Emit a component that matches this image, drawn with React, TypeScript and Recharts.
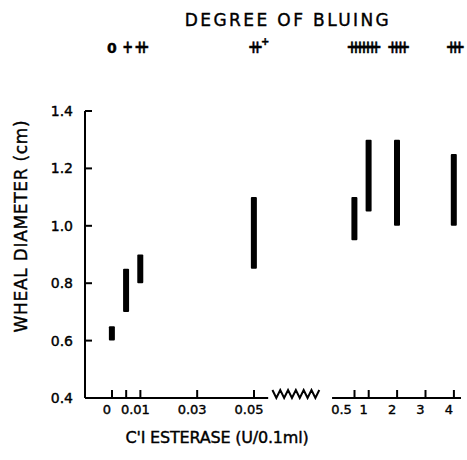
import React from "react";
import { ComposedChart, Bar, XAxis, YAxis, ReferenceLine, Label } from "recharts";

// C'1 esterase concentrations (U/0.1ml) and measured wheal ranges (cm)
const concentrations = [0, 0.005, 0.01, 0.05, 0.5, 1, 2, 4];
const whealLow = [0.6, 0.7, 0.8, 0.85, 0.95, 1.05, 1.0, 1.0];
const whealHigh = [0.65, 0.85, 0.9, 1.1, 1.1, 1.3, 1.3, 1.25];
const bluing = ["0", "+", "++", "++⁺", "+++", "++++", "++++", "+++"];

const tickValues = [0, 0.005, 0.01, 0.03, 0.05, 0.5, 1, 2, 3, 4];
const tickLabels = ["0", "", "0.01", "0.03", "0.05", "0.5", "1", "2", "3", "4"];
const yTicks = [0.4, 0.6, 0.8, 1.0, 1.2, 1.4];

// broken axis: 0-0.05 drawn on a x100 scale, 0.5-4 shifted past the break
const BREAK_SHIFT = 8.04;
const toPos = (c: number) => (c <= 0.05 ? c * 100 : c + BREAK_SHIFT);
const X_DOMAIN = [-0.95, 12.29];

const data = concentrations.map((c, i) => ({
  pos: toPos(c),
  range: [whealLow[i], whealHigh[i]],
}));

const FONT = "DejaVu Sans";
const ink = { fill: "#000", stroke: "#000", strokeWidth: 0.4, fontFamily: FONT };

const findIndex = (vals: number[], p: number) =>
  vals.findIndex((v) => Math.abs(toPos(v) - p) < 1e-6);

const BottomTick = ({ x, y, payload }: any) => {
  const i = findIndex(tickValues, payload.value);
  const label = tickLabels[i] ?? "";
  const shift = label === "0.5" ? -13 : -5;
  return (
    <g>
      <line x1={x} x2={x} y1={y} y2={y - 8} stroke="#000" strokeWidth={2} />
      <text x={x + shift} y={y + 16} textAnchor="middle" fontSize={13} {...ink}>
        {label}
      </text>
    </g>
  );
};

const TopTick = ({ x, y, payload }: any) => {
  const i = findIndex(concentrations, payload.value);
  const label = bluing[i] ?? "";
  const main = label.replace("⁺", "");
  const sup = label.includes("⁺");
  if (main === "0") {
    return (
      <text x={x} y={y - 58} textAnchor="middle" fontSize={14} fontWeight="bold" {...ink}>
        0
      </text>
    );
  }
  return (
    <g transform={`translate(${x},${y - 58})`}>
      <text x={-2} y={0} transform="scale(1,1.35)" textAnchor="middle" fontSize={13} fontWeight="bold" letterSpacing={-6.8} {...ink}>
        {main}
      </text>
      {sup && (
        <text x={7} y={-8} fontSize={10} fontWeight="bold" {...ink}>
          +
        </text>
      )}
    </g>
  );
};

const LeftTick = ({ x, y, payload }: any) => (
  <g>
    <line x1={x} x2={x + 7} y1={y} y2={y} stroke="#000" strokeWidth={2} />
    <text x={x - 12} y={y + 5} textAnchor="end" fontSize={14} {...ink}>
      {Number(payload.value).toFixed(1)}
    </text>
  </g>
);

const ZigZag = (props: any) => {
  const { x1, x2, y1 } = props;
  const n = 12;
  const step = (x2 - x1) / n;
  let d = `M${x1},${y1 - 8}`;
  for (let k = 1; k <= n; k++) {
    d += ` L${x1 + k * step},${k % 2 ? y1 : y1 - 8}`;
  }
  return <path d={d} fill="none" stroke="#000" strokeWidth={2} />;
};

export default function App() {
  return (
    <div style={{ position: "absolute", left: 0, top: 0 }}>
      <ComposedChart width={467} height={460} data={data} margin={{ top: 81, right: 6, bottom: 32, left: 1 }}>
        <XAxis
          dataKey="pos"
          type="number"
          domain={X_DOMAIN}
          ticks={tickValues.map(toPos)}
          allowDataOverflow
          axisLine={false}
          tickLine={false}
          tickSize={0}
          tickMargin={0}
          tick={<BottomTick />}
          height={30}
          interval={0}
        >
          <Label
            content={() => (
              <text x={217} y={443} textAnchor="middle" fontSize={16} letterSpacing={-0.2} {...ink}>
                C'I ESTERASE (U/0.1ml)
              </text>
            )}
          />
        </XAxis>
        <XAxis
          xAxisId="top"
          dataKey="pos"
          orientation="top"
          type="number"
          domain={X_DOMAIN}
          ticks={concentrations.map(toPos)}
          allowDataOverflow
          axisLine={false}
          tickLine={false}
          tickSize={0}
          tickMargin={0}
          tick={<TopTick />}
          height={30}
          interval={0}
        >
          <Label
            content={() => (
              <text x={288} y={26} textAnchor="middle" fontSize={17} letterSpacing={2.4} {...ink}>
                DEGREE OF BLUING
              </text>
            )}
          />
        </XAxis>
        <YAxis
          type="number"
          domain={[0.4, 1.4]}
          ticks={yTicks}
          width={84}
          axisLine={{ stroke: "#000", strokeWidth: 2 }}
          tickLine={false}
          tickSize={0}
          tickMargin={0}
          tick={<LeftTick />}
          interval={0}
        >
          <Label
            content={() => (
              <text x={22} y={226} transform="rotate(-90 22 226)" textAnchor="middle" dominantBaseline="middle" fontSize={17} letterSpacing={0.7} {...ink}>
                WHEAL DIAMETER (cm)
              </text>
            )}
          />
        </YAxis>
        <ReferenceLine segment={[{ x: X_DOMAIN[0], y: 0.4 }, { x: 5.5, y: 0.4 }]} stroke="#000" strokeWidth={2} ifOverflow="visible" />
        <ReferenceLine segment={[{ x: 5.65, y: 0.4 }, { x: 7.3, y: 0.4 }]} ifOverflow="visible" shape={ZigZag} />
        <ReferenceLine segment={[{ x: 7.75, y: 0.4 }, { x: X_DOMAIN[1], y: 0.4 }]} stroke="#000" strokeWidth={2} ifOverflow="visible" />
        <Bar dataKey="range" fill="#000" barSize={6} radius={1} isAnimationActive={false} />
      </ComposedChart>
    </div>
  );
}
